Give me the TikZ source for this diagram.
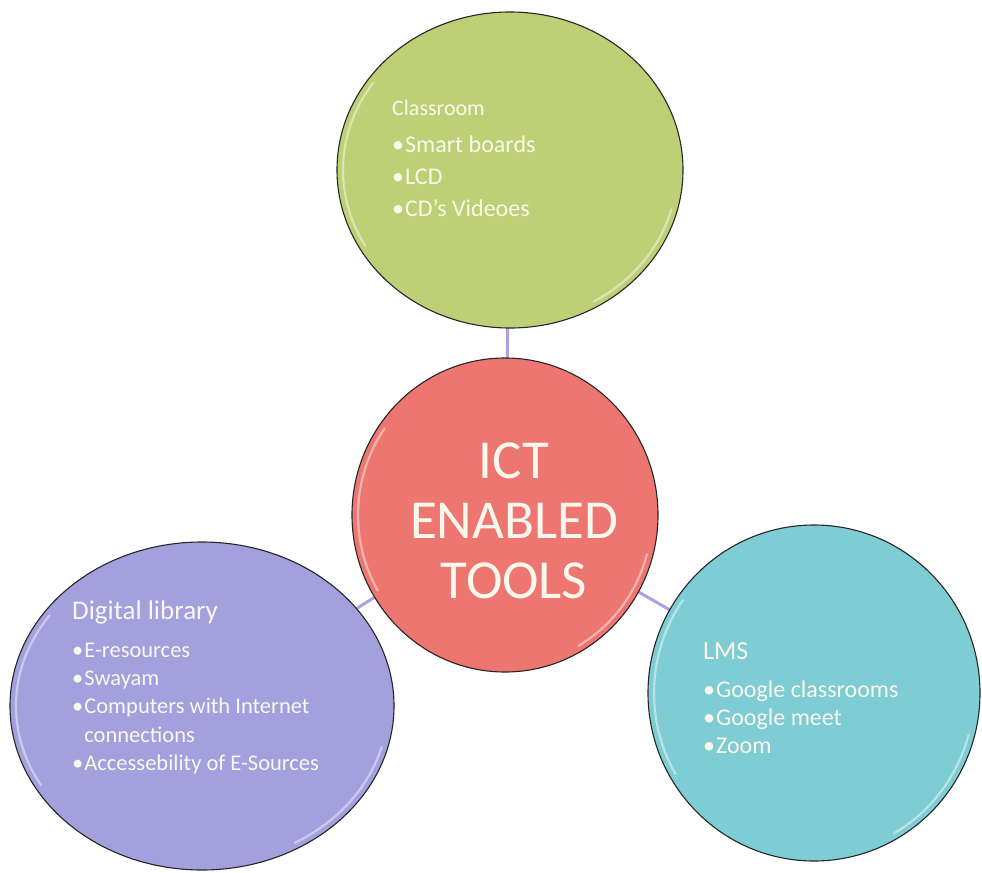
\documentclass[tikz,border=0pt]{standalone}
\usepackage{fontspec}
\setmainfont{Carlito}
\usetikzlibrary{shapes.geometric}
\pgfdeclarelayer{background}
\pgfsetlayers{background,main}
\definecolor{cgreen}{RGB}{190,208,118}
\definecolor{cred}{RGB}{238,118,112}
\definecolor{cpurple}{RGB}{162,160,221}
\definecolor{cteal}{RGB}{126,205,212}
\definecolor{clink}{RGB}{168,164,228}
\definecolor{ctext}{RGB}{250,248,236}
\newcommand{\bul}{\textbullet\kern1bp}
\begin{document}
\begin{tikzpicture}[x=1bp,y=-1bp,
  bubble/.style={ellipse, draw=black!85, line width=1.1bp, inner sep=0pt},
  link/.style={draw=clink, line width=3bp},
  bubtext/.style={text=ctext, align=left, inner sep=0pt, anchor=north west},
  gloss/.style={draw=white, opacity=0.45, line width=2.2bp, line cap=round}]
\useasboundingbox (0,0) rectangle (982,873);

% circles
\node[bubble, fill=cgreen,  minimum width=346bp, minimum height=316bp] (green)  at (510,170) {};
\node[bubble, fill=cred,    minimum width=306bp, minimum height=314bp] (red)    at (505,515) {};
\node[bubble, fill=cpurple, minimum width=384bp, minimum height=328bp] (purple) at (202,706) {};
\node[bubble, fill=cteal,   minimum width=332bp, minimum height=336bp] (teal)   at (814,693) {};

% connectors (behind the circles)
\begin{pgfonlayer}{background}
\fill[white] (0,0) rectangle (982,873);
\draw[link] (red.center) -- (green.center);
\draw[link] (red.center) -- (purple.center);
\draw[link] (red.center) -- (teal.center);
\end{pgfonlayer}

% gloss highlights
\draw[gloss] ([shift={(215:167 and 152)}]green.center) arc[start angle=215, end angle=150, x radius=167, y radius=152];
\draw[gloss] ([shift={(15:167 and 152)}]green.center) arc[start angle=15, end angle=60, x radius=167, y radius=152];
\draw[gloss] ([shift={(215:147 and 151)}]red.center) arc[start angle=215, end angle=150, x radius=147, y radius=151];
\draw[gloss] ([shift={(15:147 and 151)}]red.center) arc[start angle=15, end angle=60, x radius=147, y radius=151];
\draw[gloss] ([shift={(215:186 and 158)}]purple.center) arc[start angle=215, end angle=150, x radius=186, y radius=158];
\draw[gloss] ([shift={(15:186 and 158)}]purple.center) arc[start angle=15, end angle=60, x radius=186, y radius=158];
\draw[gloss] ([shift={(215:160 and 162)}]teal.center) arc[start angle=215, end angle=150, x radius=160, y radius=162];
\draw[gloss] ([shift={(15:160 and 162)}]teal.center) arc[start angle=15, end angle=60, x radius=160, y radius=162];

% texts
\node[bubtext, font=\fontsize{24bp}{32bp}\selectfont] (greentext) at (392,100)
  {{\fontsize{22bp}{32bp}\selectfont Classroom}\\[5bp]
   \bul Smart boards\\ \bul LCD\\ \bul CD's Videoes};

\node[text=ctext, align=center, inner sep=0pt, anchor=north,
      font=\fontsize{55bp}{60bp}\selectfont] (redtext) at (514,443)
  {ICT\\ENABLED\\TOOLS};

\node[bubtext, font=\fontsize{22.5bp}{28.3bp}\selectfont] (purpletext) at (72,601)
  {{\fontsize{27bp}{30bp}\selectfont Digital library}\\[9bp]
   \bul E-resources\\ \bul Swayam\\ \bul Computers with Internet\\
   \phantom{\bul}connections\\ \bul Accessebility of E-Sources};

\node[bubtext, font=\fontsize{24bp}{28bp}\selectfont] (tealtext) at (703,642)
  {{\fontsize{26bp}{28bp}\selectfont LMS}\\[10bp]
   \bul Google classrooms\\ \bul Google meet\\ \bul Zoom};
\end{tikzpicture}
\end{document}
